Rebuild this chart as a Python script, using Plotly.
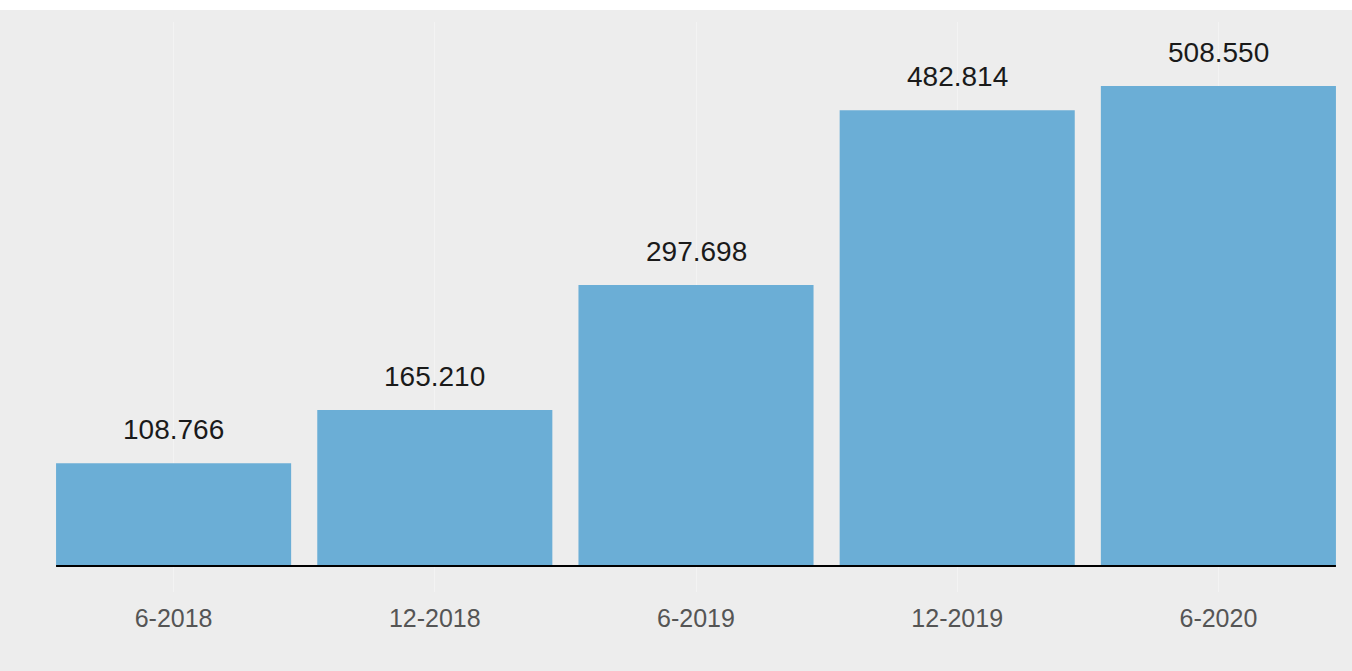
import plotly.graph_objects as go

# Half-year periods and the values reported for each
periods = ["6-2018", "12-2018", "6-2019", "12-2019", "6-2020"]
values = [108.766, 165.210, 297.698, 482.814, 508.550]
value_labels = [f"{v:.3f}" for v in values]

BAR_COLOR = "#6BAED6"
PANEL_GRAY = "#EDEDED"
FONT = "Liberation Sans, Arial, sans-serif"
BARGAP = 0.10

fig = go.Figure(
    go.Bar(
        x=list(range(len(periods))),
        y=values,
        marker=dict(color=BAR_COLOR, line=dict(width=0)),
        hovertext=periods,
        hoverinfo="text+y",
    )
)

# Value labels sitting above each bar
for i, (v, lab) in enumerate(zip(values, value_labels)):
    fig.add_annotation(
        x=i, y=v, text=lab, showarrow=False,
        yanchor="bottom", yshift=16,
        font=dict(family=FONT, size=28, color="#1a1a1a"),
    )

# Gray panel behind the chart
fig.add_shape(
    type="rect", xref="paper", yref="paper",
    x0=-0.05, x1=1.02, y0=-0.2, y1=1.0211,
    fillcolor=PANEL_GRAY, line=dict(width=0), layer="below",
)

# Baseline running from the first bar's left edge to the last bar's right edge
half = (1 - BARGAP) / 2
fig.add_shape(
    type="line", xref="x", yref="y",
    x0=-half, x1=len(periods) - 1 + half, y0=0, y1=0,
    line=dict(color="#000000", width=2), layer="above",
)

fig.update_layout(
    width=1352, height=671,
    margin=dict(l=43, r=3, t=22, b=79),
    paper_bgcolor="white",
    plot_bgcolor="rgba(0,0,0,0)",
    bargap=BARGAP,
    showlegend=False,
    font=dict(family=FONT),
)
fig.update_xaxes(
    range=[-0.5, len(periods) - 0.5],
    tickmode="array", tickvals=list(range(len(periods))), ticktext=periods,
    showgrid=True, gridcolor="#F3F3F3", gridwidth=1,
    showline=False, zeroline=False, ticks="", ticklabelstandoff=9,
    tickfont=dict(family=FONT, size=25, color="#555555"),
)
fig.update_yaxes(
    range=[-27.5, 576.3], showgrid=False, showticklabels=False,
    zeroline=False,
)

fig.write_html("out.html")
